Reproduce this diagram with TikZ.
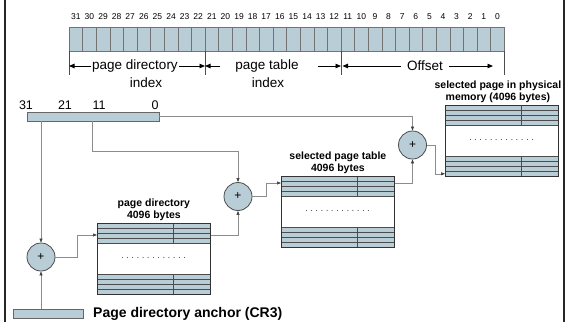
\documentclass[tikz,border=0pt]{standalone}
\usepackage{fontspec}
\setmainfont{Liberation Sans}
\usepackage{tikz}
\usetikzlibrary{positioning,arrows.meta}
\definecolor{regblue}{HTML}{B9CDD6}

\begin{document}
\begin{tikzpicture}[x=1pt,y=-1pt,>={Triangle[length=4pt,width=3pt]},
  bitcell/.style={draw=black!55,fill=regblue,line width=0.6pt},
  tblrow/.style={draw=black!70,fill=regblue,line width=0.6pt},
  tbl/.style={draw=black!80,line width=0.8pt,minimum width=113pt,minimum height=71pt,inner sep=0pt},
  reg/.style={draw=black!60,fill=regblue,line width=0.7pt,inner sep=0pt},
  adder/.style={circle,draw=black!70,fill=regblue,line width=0.8pt,minimum size=28pt,inner sep=0pt,font=\fontsize{12}{12}\selectfont},
  link/.style={black!45,line width=0.6pt,-{Triangle[length=4pt,width=3pt,color=black!75]}},
  fieldarrow/.style={black,line width=0.9pt,-{Triangle[length=5.5pt,width=4.5pt]}},
  bitnum/.style={font=\fontsize{8.5}{9}\selectfont,inner sep=0pt},
  lbit/.style={font=\fontsize{12.5}{14}\selectfont,inner sep=0pt},
  field/.style={font=\fontsize{13.5}{15}\selectfont,inner sep=1pt},
  ttl/.style={font=\fontsize{10.5}{12}\selectfont\bfseries,align=center,inner sep=1pt},
  gap/.style={font=\fontsize{8}{8}\selectfont,inner sep=0pt}]
  \useasboundingbox (0,0) rectangle (567,322);

  % linear address, 32 bits
  \foreach \i in {0,...,31} {
    \pgfmathtruncatemacro{\b}{31-\i}
    \draw[bitcell] (69+\i*13.6,27) rectangle ++(13.6,24);
    \node[bitnum] (n\b) at (75.8+\i*13.6,17) {\b};
  }
  \foreach \t/\x in {t0/69,t1/205,t2/341,t3/504} {
    \draw[black!70,line width=0.8pt] (\x,51) -- (\x,75);
    \coordinate (\t) at (\x,66);
  }
  \node[field] (pdir) at (135,66) {page directory};
  \node[field] (ptab) at (267,66) {page table};
  \node[field] (offs) at (425,66) {Offset};
  \node[field] (pdix) at (146,83) {index};
  \node[field] (ptix) at (268,83) {index};
  \draw[fieldarrow] (pdir.west) -- (t0);
  \draw[fieldarrow] (pdir.east) -- (t1);
  \draw[fieldarrow] ([xshift=-14pt]ptab.west) -- (t1);
  \draw[fieldarrow] ([xshift=18pt]ptab.east) -- (t2);
  \draw[fieldarrow] ([xshift=-5pt]offs.west) -- ([xshift=1.5pt]t2);
  \draw[fieldarrow] ([xshift=5pt]offs.east) -- ([xshift=-11pt]t3);

  % short register
  \node[reg,minimum width=132pt,minimum height=9pt] (lin) at (93,116.5) {};
  \node[lbit] (l31) at (26,105) {31};
  \node[lbit] (l21) at (65,105) {21};
  \node[lbit] (l11) at (99,105) {11};
  \node[lbit] (l0) at (155,105) {0};

  % tables
  \foreach \n/\x/\y in {pd/97/223,pt/281/176,pg/445/105} {
    \begin{scope}[shift={(\x,\y)}]
      \foreach \r in {0,5,10,15,51,56,61,66}
        \draw[tblrow] (0,\r) rectangle (113,\r+5);
      \draw[black!70,line width=0.8pt] (76,0) -- (76,20) (76,51) -- (76,71);
      \node[gap] (\n dots) at (56.5,35.5) {. . . . . . . . . . . . .};
      \node[tbl,anchor=north west] (\n) at (0,0) {};
    \end{scope}
  }
  \node[ttl,above=1pt of pd] (pdttl) {page directory\\4096 bytes};
  \node[ttl,above=1pt of pt] (ptttl) {selected page table\\4096 bytes};
  \node[ttl,above=1pt of pg,xshift=-4pt] (pgttl) {selected page in physical\\memory (4096 bytes)};

  % adders
  \node[adder] (add1) at (41,257) {+};
  \node[adder] (add2) at (238,196.5) {+};
  \node[adder] (add3) at (412.5,145) {+};

  % CR3
  \node[reg,minimum width=70pt,minimum height=9pt] (cr3) at (48,313.5) {};
  \node[font=\fontsize{14}{16}\selectfont\bfseries,inner sep=0pt,anchor=west] (cr3lbl) at (93,313.5) {Page directory anchor (CR3)};

  % connectors
  \draw[link] (lin.south -| add1) -- (add1.north);
  \draw[link] ([xshift=66pt]lin.south west) -- ++(0,30) -| (add2.north);
  \draw[link] (lin.east) -| (add3.north);
  \draw[link] (cr3.north -| add1) -- (add1.south);
  \draw[link] (add1.east) -- ++(22,0) |- ([yshift=-12pt]pd.north west);
  \draw[link] ([yshift=-12pt]pd.north east) -| (add2.south);
  \draw[link] (add2.east) -- ++(14,0) |- ([yshift=-7pt]pt.north west);
  \draw[link] ([yshift=-7pt]pt.north east) -| (add3.south);
  \draw[link] (add3.east) -- ++(8,0) |- ([yshift=3pt]pg.south west);

  % frame
  \draw[black!85,line width=2pt] (5,0) -- (5,322) (564,0) -- (564,322);
\end{tikzpicture}
\end{document}
